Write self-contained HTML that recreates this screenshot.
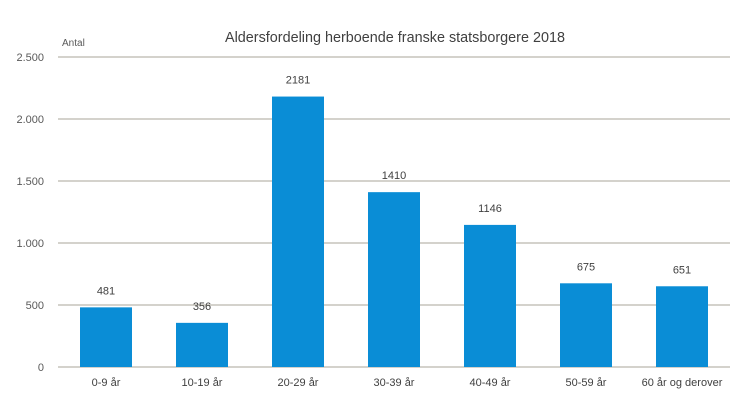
<!DOCTYPE html>
<html><head><meta charset="utf-8"><style>
body{margin:0;background:#fff;}
svg{display:block;font-family:"Liberation Sans",sans-serif;}
</style></head><body>
<svg id="chart" width="750" height="408">
<text x="395" y="42" text-anchor="middle" font-size="15" fill="#404040" textLength="340" lengthAdjust="spacingAndGlyphs">Aldersfordeling herboende franske statsborgere 2018</text>
<text x="62" y="46" font-size="10" fill="#595959">Antal</text>
<g id="grid"></g><g id="bars"></g><g id="labels"></g>
</svg>
<script>
const categories=["0-9 år","10-19 år","20-29 år","30-39 år","40-49 år","50-59 år","60 år og derover"];
const values=[481,356,2181,1410,1146,675,651];
const ticks=[0,500,1000,1500,2000,2500];
const tickLabels=["0","500","1.000","1.500","2.000","2.500"];
const NS="http://www.w3.org/2000/svg";
const x0=58,x1=730,y0=367,yTop=57,max=2500;
const step=(x1-x0)/categories.length;
const y=v=>y0-(v/max)*(y0-yTop);
const xc=i=>x0+step*(i+0.5);
function mk(t,a,p){const e=document.createElementNS(NS,t);for(const k in a)e.setAttribute(k,a[k]);p.appendChild(e);return e;}
const g=document.getElementById('grid'),b=document.getElementById('bars'),l=document.getElementById('labels');
ticks.forEach((t,i)=>{
 const ln=mk('line',{x1:x0,x2:x1,y1:y(t),y2:y(t),stroke:'#a9a698','stroke-width':1},g);
 
 
 const tx=mk('text',{x:44,y:y(t)+4,'text-anchor':'end','font-size':11,fill:'#595959'},g);
 tx.textContent=tickLabels[i];
 
 
});
values.forEach((v,i)=>{
 const w=52;
 const r=mk('rect',{x:xc(i)-w/2,y:y(v),width:w,height:y0-y(v),fill:'#0a8dd6'},b);
 
 
 const vt=mk('text',{x:xc(i),y:y(v)-13,'text-anchor':'middle','font-size':11,fill:'#404040'},l);
 vt.textContent=v;
 
 
 const ct=mk('text',{x:xc(i),y:386,'text-anchor':'middle','font-size':11,fill:'#404040'},l);
 ct.textContent=categories[i];
 
 
});
</script>
</body></html>
